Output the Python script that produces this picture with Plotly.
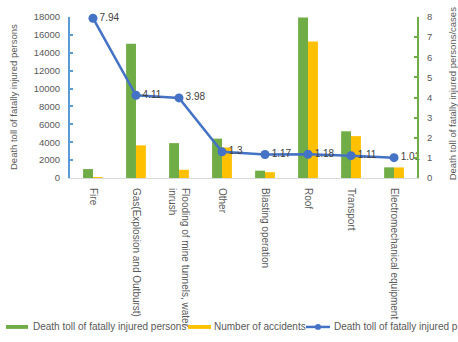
import plotly.graph_objects as go

categories = ["Fire", "Gas(Explosion and Outburst)", "Flooding of mine tunnels, water<br>inrush",
              "Other", "Blasting operation", "Roof", "Transport", "Electromechanical equipment"]
deaths = [1000, 15000, 3900, 4400, 820, 17950, 5220, 1190]
accidents = [100, 3650, 920, 3410, 650, 15250, 4680, 1180]
ratio = [7.94, 4.11, 3.98, 1.3, 1.17, 1.18, 1.11, 1.01]
ratio_labels = ["7.94", "4.11", "3.98", "1.3", "1.17", "1.18", "1.11", "1.01"]

W, H = 458, 342
L, R, T, B = 70, 417, 11, 178
GREEN = "#70AD47"
YELLOW = "#FFC000"
BLUE = "#4472C4"
TXT = "#595959"
FONT = "Liberation Sans"

def px_x(p):
    return (p - L) / (R - L)

def px_y(p):
    return (B - p) / (B - T)

fig = go.Figure()
fig.add_trace(go.Bar(x=categories, y=deaths, name="Death toll of fatally injured persons",
                     marker=dict(color=GREEN, line=dict(width=0))))
fig.add_trace(go.Bar(x=categories, y=accidents, name="Number of accidents",
                     marker=dict(color=YELLOW, line=dict(width=0))))
fig.add_trace(go.Scatter(x=categories, y=ratio, yaxis="y2", mode="lines+markers+text",
                         name="Death toll of fatally injured persons/cases",
                         text=ratio_labels, textposition="middle right", cliponaxis=False,
                         textfont=dict(family=FONT, size=10, color="#404040"),
                         line=dict(color=BLUE, width=2.5),
                         marker=dict(color=BLUE, size=9)))

fig.update_layout(
    width=W, height=H,
    margin=dict(l=L, r=W - R, t=T, b=H - B),
    paper_bgcolor="white", plot_bgcolor="white",
    barmode="group", bargap=0.54, bargroupgap=0,
    showlegend=False,
    font=dict(family=FONT, size=10, color=TXT),
    xaxis=dict(tickangle=90, showgrid=False, showline=True, linecolor="#D9D9D9", linewidth=1,
               ticks="", tickfont=dict(size=10, color=TXT), ticklabelstandoff=7),
    yaxis=dict(range=[0, 18000], dtick=2000, tickformat="d", showgrid=False, zeroline=False,
               showline=True, linecolor="#5B9BD5", linewidth=2,
               ticks="inside", ticklen=3, tickcolor="#5B9BD5", tickwidth=1.5,
               tickfont=dict(size=9.5, color=TXT), ticklabelstandoff=6),
    yaxis2=dict(range=[0, 8], dtick=1, overlaying="y", side="right", showgrid=False,
                zeroline=False, showline=True, linecolor=GREEN, linewidth=2,
                ticks="inside", ticklen=3, tickcolor=GREEN, tickwidth=1.5,
                tickfont=dict(size=9.5, color=TXT), ticklabelstandoff=6),
)

# axis titles
fig.add_annotation(text="Death toll of fatally injured persons", xref="paper", yref="paper",
                   x=px_x(13), y=px_y(94), textangle=-90, showarrow=False,
                   font=dict(family=FONT, size=9.5, color=TXT), xanchor="center", yanchor="middle")
fig.add_annotation(text="Death toll of fatally injured persons/cases", xref="paper", yref="paper",
                   x=px_x(452), y=px_y(183), textangle=-90, showarrow=False,
                   font=dict(family=FONT, size=9.5, color=TXT), xanchor="center", yanchor="bottom")

# custom legend
ly = 332.5
fig.add_shape(type="rect", xref="paper", yref="paper", x0=px_x(6), x1=px_x(28),
              y0=px_y(ly - 2), y1=px_y(ly + 2), fillcolor=GREEN, line=dict(width=0))
fig.add_annotation(text="Death toll of fatally injured persons", xref="paper", yref="paper",
                   x=px_x(31), y=px_y(ly), xanchor="left", yanchor="middle", showarrow=False,
                   font=dict(family=FONT, size=10, color=TXT))
fig.add_shape(type="rect", xref="paper", yref="paper", x0=px_x(188), x1=px_x(211),
              y0=px_y(ly - 2), y1=px_y(ly + 2), fillcolor=YELLOW, line=dict(width=0))
fig.add_annotation(text="Number of accidents", xref="paper", yref="paper",
                   x=px_x(212), y=px_y(ly), xanchor="left", yanchor="middle", showarrow=False,
                   font=dict(family=FONT, size=10, color=TXT))
fig.add_shape(type="line", xref="paper", yref="paper", x0=px_x(306), x1=px_x(330),
              y0=px_y(ly), y1=px_y(ly), line=dict(color=BLUE, width=2.5))
fig.add_shape(type="circle", xref="paper", yref="paper", x0=px_x(315), x1=px_x(321),
              y0=px_y(ly - 3), y1=px_y(ly + 3), fillcolor=BLUE, line=dict(width=0))
fig.add_annotation(text="Death toll of fatally injured persons/cases", xref="paper", yref="paper",
                   x=px_x(332), y=px_y(ly), xanchor="left", yanchor="middle", showarrow=False,
                   font=dict(family=FONT, size=10, color=TXT))

fig.write_html("out.html")
